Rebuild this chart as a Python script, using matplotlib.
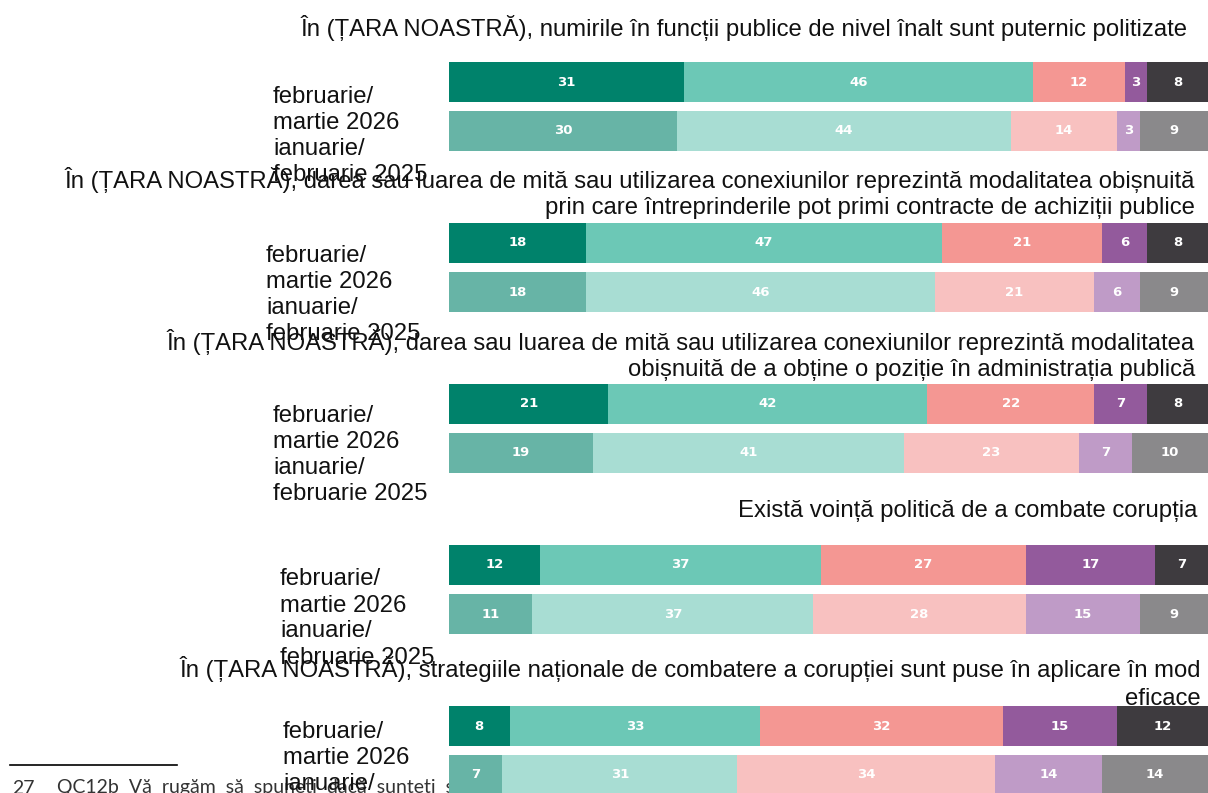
import matplotlib.pyplot as plt
from matplotlib.transforms import blended_transform_factory
from matplotlib.lines import Line2D

plt.rcParams['font.family'] = ['Liberation Sans', 'DejaVu Sans']

titles = [
    "În (ȚARA NOASTRĂ), numirile în funcții publice de nivel înalt sunt puternic politizate",
    "În (ȚARA NOASTRĂ), darea sau luarea de mită sau utilizarea conexiunilor reprezintă modalitatea obișnuită\nprin care întreprinderile pot primi contracte de achiziții publice",
    "În (ȚARA NOASTRĂ), darea sau luarea de mită sau utilizarea conexiunilor reprezintă modalitatea\nobișnuită de a obține o poziție în administrația publică",
    "Există voință politică de a combate corupția",
    "În (ȚARA NOASTRĂ), strategiile naționale de combatere a corupției sunt puse în aplicare în mod\neficace",
]
periods = ["februarie/\nmartie 2026", "ianuarie/\nfebruarie 2025"]

# each panel: [2026 row, 2025 row], 5 answer categories
values = [
    [[31, 46, 12, 3, 8], [30, 44, 14, 3, 9]],
    [[18, 47, 21, 6, 8], [18, 46, 21, 6, 9]],
    [[21, 42, 22, 7, 8], [19, 41, 23, 7, 10]],
    [[12, 37, 27, 17, 7], [11, 37, 28, 15, 9]],
    [[8, 33, 32, 15, 12], [7, 31, 34, 14, 14]],
]

colors_2026 = ['#00826B', '#6CC8B6', '#F49793', '#935A9C', '#3E3B3F']
colors_2025 = ['#67B4A6', '#A8DDD3', '#F8C1C0', '#BF9BC7', '#8A898B']

footnote_num = "27"
footnote = "QC12b  Vă  rugăm  să  spuneți  dacă  sunteți  sau  nu  de  acord  cu  următoarele  afirmații"

W, H = 1208, 793
fig = plt.figure(figsize=(W / 100, H / 100), dpi=100)

# layout in pixels
row_center0 = 82
panel_step = 161
unit = 49
bar_left, bar_right = 449, 1208
title_y = [28, 193, 355, 511, 683]
title_x = [1188, 1195, 1195, 1197, 1201]
title_ls = [1.2, 1.2, 1.25, 1.2, 1.4]
label_x = [273, 266, 273, 280, 283]
label_shift = [28, 26, 25, 27.5, 19]   # px below the bar centre
fs = 17.2

for i, panel in enumerate(values):
    c = row_center0 + panel_step * i
    top = c - 0.45 * unit
    bottom = c + 1.45 * unit
    ax = fig.add_axes([bar_left / W, 1 - bottom / H,
                       (bar_right - bar_left) / W, (bottom - top) / H])
    ax.set_facecolor('white')
    for r, row in enumerate(panel):
        cols = colors_2026 if r == 0 else colors_2025
        left = 0
        for v, col in zip(row, cols):
            ax.barh(r, v, left=left, height=0.8, color=col, edgecolor='none')
            ax.text(left + v / 2, r, str(v), ha='center', va='center',
                    color='white', fontsize=9.5, fontweight='bold',
                    family='DejaVu Sans')
            left += v
    ax.set_xlim(0, 100)
    ax.set_ylim(1.45, -0.45)
    ax.axis('off')

    tr = blended_transform_factory(fig.transFigure, ax.transData)
    for r, lab in enumerate(periods):
        off = (label_shift[i] + 3 * r) / unit
        fig.text(label_x[i] / W, r + off, lab, transform=tr,
                 ha='left', va='center', fontsize=fs, linespacing=1.28,
                 color='#111111', zorder=5)

    fig.text(title_x[i] / W, 1 - title_y[i] / H, titles[i], ha='right',
             va='center', multialignment='right', fontsize=fs,
             linespacing=title_ls[i], color='#111111', zorder=5)

# footnote, partly hidden behind the bar area
fig.add_artist(Line2D([10 / W, 177 / W], [1 - 765 / H, 1 - 765 / H],
                      color='black', lw=1.2, zorder=-2))
fig.text(12 / W, 1 - 788 / H, footnote_num, ha='left', va='center',
         fontsize=14, family='Lato', color='#333333', zorder=-2)
fig.text(57 / W, 1 - 788 / H, footnote, ha='left', va='center',
         fontsize=14, family='Lato', color='#333333', zorder=-2)

fig.savefig('out.png', dpi=100)
